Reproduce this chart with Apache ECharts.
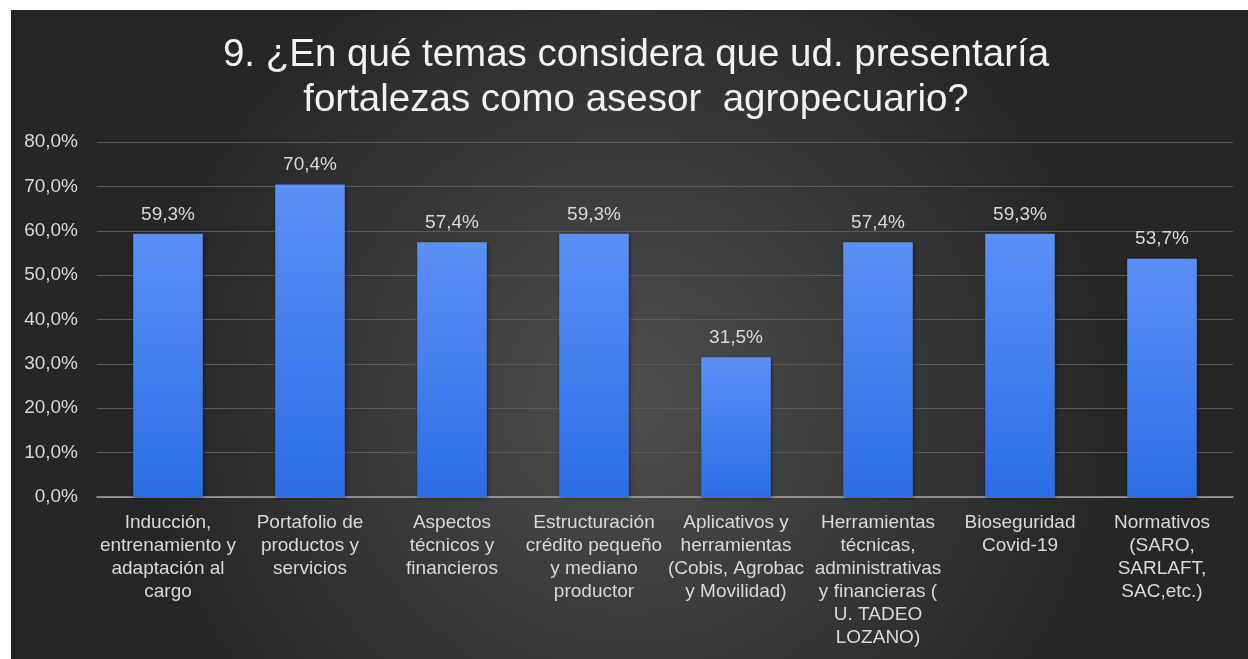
<!DOCTYPE html>
<html>
<head>
<meta charset="utf-8">
<script src="https://cdn.jsdelivr.net/npm/echarts@6/dist/echarts.min.js"></script>
<style>
  html, body { margin: 0; padding: 0; background: #ffffff; }
  #chart { width: 1248px; height: 659px; }
</style>
</head>
<body>
<div id="chart"></div>
<script>
// Survey question 9: share of advisors reporting strengths per topic
const titleText = '9. ¿En qué temas considera que ud. presentaría\nfortalezas como asesor  agropecuario?';

const categories = [
  'Inducción,\nentrenamiento y\nadaptación al\ncargo',
  'Portafolio de\nproductos y\nservicios',
  'Aspectos\ntécnicos y\nfinancieros',
  'Estructuración\ncrédito pequeño\ny mediano\nproductor',
  'Aplicativos y\nherramientas\n(Cobis, Agrobac\ny Movilidad)',
  'Herramientas\ntécnicas,\nadministrativas\ny financieras (\nU. TADEO\nLOZANO)',
  'Bioseguridad\nCovid-19',
  'Normativos\n(SARO,\nSARLAFT,\nSAC,etc.)'
];

const percentages = [59.3, 70.4, 57.4, 59.3, 31.5, 57.4, 59.3, 53.7];

const yTicks = { min: 0, max: 80, interval: 10 };

const fmtPct = (v, digits) => v.toFixed(digits).replace('.', ',') + '%';

const chart = echarts.init(document.getElementById('chart'), null, { renderer: 'canvas' });

const textColor = '#d9d9d9';
const fontFamily = 'Liberation Sans, Arial, sans-serif';
const smallSize = 19;

chart.setOption({
  backgroundColor: '#ffffff',
  animation: false,
  graphic: [{
    type: 'rect',
    z: -10,
    silent: true,
    shape: { x: 11, y: 10, width: 1237, height: 649 },
    style: {
      fill: {
        type: 'radial',
        x: 0.5, y: 0.6, r: 0.75,
        colorStops: [
          { offset: 0, color: '#4e4e4e' },
          { offset: 1, color: '#262626' }
        ]
      }
    }
  }],
  title: {
    text: titleText,
    left: 631,
    top: 28,
    textAlign: 'center',
    textStyle: {
      color: '#f2f2f2',
      fontSize: 38.5,
      fontWeight: 'normal',
      fontFamily: fontFamily,
      lineHeight: 45
    }
  },
  grid: { left: 97, right: 15, top: 142, bottom: 162, containLabel: false },
  xAxis: {
    type: 'category',
    data: categories,
    axisLine: { lineStyle: { color: '#a6a6a6', width: 1.5 } },
    axisTick: { show: false },
    axisLabel: {
      color: textColor,
      fontSize: smallSize,
      lineHeight: 23,
      fontFamily: fontFamily,
      interval: 0,
      margin: 14,
      verticalAlign: 'top'
    }
  },
  yAxis: {
    type: 'value',
    min: yTicks.min,
    max: yTicks.max,
    interval: yTicks.interval,
    axisLine: { show: false },
    axisTick: { show: false },
    splitLine: { lineStyle: { color: '#5a5a5a', width: 1 } },
    axisLabel: {
      color: textColor,
      fontSize: smallSize,
      fontFamily: fontFamily,
      margin: 19,
      formatter: v => fmtPct(v, 1)
    }
  },
  series: [{
    type: 'bar',
    data: percentages,
    barWidth: '49%',
    itemStyle: {
      color: {
        type: 'linear', x: 0, y: 0, x2: 0, y2: 1,
        colorStops: [
          { offset: 0, color: '#5b90f6' },
          { offset: 1, color: '#2a6ee6' }
        ]
      },
      shadowColor: 'rgba(0,0,0,0.45)',
      shadowBlur: 4,
      shadowOffsetX: 1,
      shadowOffsetY: 1
    },
    label: {
      show: true,
      position: 'top',
      distance: 10,
      color: textColor,
      fontSize: smallSize,
      fontFamily: fontFamily,
      formatter: p => fmtPct(p.value, 1)
    }
  }]
});
</script>
</body>
</html>
